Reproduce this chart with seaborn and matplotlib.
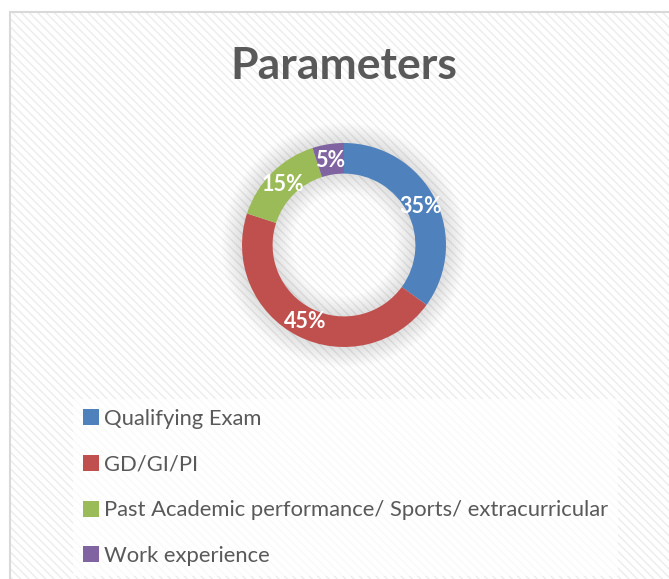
import matplotlib
matplotlib.use("Agg")
import matplotlib.pyplot as plt
import seaborn as sns
from matplotlib.patches import Rectangle, Patch, Wedge

categories = ["Qualifying Exam", "GD/GI/PI",
              "Past Academic performance/ Sports/ extracurricular", "Work experience"]
values = [35, 45, 15, 5]
labels = ["35%", "45%", "15%", "5%"]
colors = ["#4F81BD", "#C0504D", "#9BBB59", "#8064A2"]
title = "Parameters"

sns.set_style("white")
plt.rcParams['font.family'] = ['Lato', 'DejaVu Sans']
palette = sns.color_palette(colors)

W, H = 669, 579
fig = plt.figure(figsize=(W / 100, H / 100), dpi=100)
fig.patch.set_facecolor("white")

def fx(px): return px / W
def fy(py): return 1 - py / H

# hatched chart area
bg = Rectangle((fx(10), 0), 1 - fx(10) + 0.01, fy(12), transform=fig.transFigure,
               facecolor="white", edgecolor="#ececec", hatch="\\\\\\\\", linewidth=0, zorder=-10)
fig.patches.append(bg)
border = Rectangle((fx(10), -0.01), 1, fy(12) + 0.01, transform=fig.transFigure,
                   fill=False, edgecolor="#d9d9d9", linewidth=1.5, zorder=-9)
fig.patches.append(border)

# donut
cx, cy, R = 344, 245, 102
lim = 1.3
half = R * lim
ax = fig.add_axes([fx(cx - half), fy(cy + half), 2 * half / W, 2 * half / H])
ax.set_facecolor("none")
ax.patch.set_alpha(0)

# soft shadow
for k in range(10):
    ax.add_patch(Wedge((0, 0), 1.0 + 0.02 * (k + 1), 0, 360, width=0.30 + 0.04 * (k + 1),
                       facecolor="#000000", alpha=0.011, linewidth=0, zorder=0))

wedges, texts, autotexts = ax.pie(values, colors=palette, startangle=90, counterclock=False,
                                  radius=1.0, wedgeprops=dict(width=0.30, linewidth=0),
                                  autopct=lambda p: "", pctdistance=0.84)
for w, lab, t in zip(wedges, labels, autotexts):
    t.set_text(lab)
    t.set_color("white")
    t.set_fontsize(15.5)
    t.set_fontweight("bold")
ax.set_xlim(-lim, lim)
ax.set_ylim(-lim, lim)
ax.set_aspect("equal")
ax.axis("off")

fig.text(fx(344), fy(66), title, ha="center", va="center", fontsize=32,
         fontweight="bold", color="#595959")

# legend
handles = [Patch(facecolor=c, edgecolor="none") for c in palette]
leg = fig.legend(handles, categories, loc="upper left",
                 bbox_to_anchor=(fx(73), fy(399)), bbox_transform=fig.transFigure,
                 frameon=True, fontsize=15.8, labelspacing=1.17, handlelength=0.75,
                 handleheight=0.75, handletextpad=0.2, borderpad=0.45, borderaxespad=0)
leg.get_frame().set_facecolor("white")
leg.get_frame().set_alpha(0.7)
leg.get_frame().set_edgecolor("none")
leg.get_frame().set_boxstyle("square", pad=0)
for t in leg.get_texts():
    t.set_color("#595959")

fig.savefig("out.png", dpi=100)
